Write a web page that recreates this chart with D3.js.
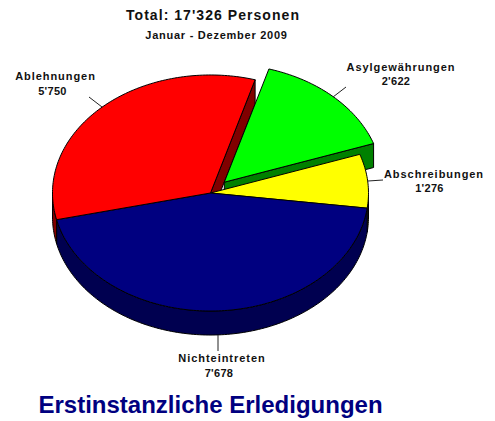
<!DOCTYPE html>
<html>
<head>
<meta charset="utf-8">
<script src="https://cdn.jsdelivr.net/npm/d3@7"></script>
<style>
  html, body { margin: 0; padding: 0; background: #fff; }
  text { font-family: "Liberation Sans", Arial, sans-serif; font-weight: bold; fill: #111; }
</style>
</head>
<body>
<svg id="chart" width="495" height="421"></svg>
<script>
const categories = ["Asylgewährungen", "Abschreibungen", "Nichteintreten", "Ablehnungen"];
const values = [2622, 1276, 7678, 5750];
const valueLabels = ["2'622", "1'276", "7'678", "5'750"];
const topColors = ["#00ff00", "#ffff00", "#000080", "#ff0000"];
const sideColors = ["#008000", "#808000", "#000050", "#800000"];
const exploded = [20, 0, 0, 0];

const cx = 210.5, cy = 193, rx = 158, tilt = 0.747, depth = 24;
const startDeg = 16.4;

const svg = d3.select("#chart");

const pie = d3.pie().sort(null)
    .startAngle(startDeg * Math.PI / 180)
    .endAngle((startDeg + 360) * Math.PI / 180);
const slices = pie(values).map((s, i) => {
    s.mid = (s.startAngle + s.endAngle) / 2;
    s.dx = exploded[i] * Math.sin(s.mid);
    s.dy = -exploded[i] * tilt * Math.cos(s.mid);
    return s;
});

// angle is clockwise from the top, r is in ground plane units
function project(s, angle, r, drop) {
    return [
        cx + s.dx + r * Math.sin(angle),
        cy + s.dy - r * tilt * Math.cos(angle) + drop
    ];
}

function arcAngles(a0, a1) {
    const n = Math.max(2, Math.ceil(Math.abs(a1 - a0) / 0.02));
    return d3.range(n + 1).map(k => a0 + (a1 - a0) * k / n);
}

const line = d3.line();

function drawPoly(points, fill) {
    svg.append("path")
        .attr("d", line(points) + "Z")
        .attr("fill", fill)
        .attr("stroke", "#000")
        .attr("stroke-width", 1)
        .attr("stroke-linejoin", "round");
}

// cut faces first, at the back
[3, 0].forEach(i => {
    const s = slices[i];
    drawPoly([
        project(s, s.endAngle, 0, 0),
        project(s, s.endAngle, rx, 0),
        project(s, s.endAngle, rx, depth),
        project(s, s.endAngle, 0, depth)
    ], sideColors[i]);
});

// outer walls, only where they face the viewer
slices.forEach((s, i) => {
    const half = Math.PI / 2, full = Math.PI * 1.5;
    const a0 = Math.max(s.startAngle, half), a1 = Math.min(s.endAngle, full);
    if (a1 <= a0) return;
    const angles = arcAngles(a0, a1);
    drawPoly(
        angles.map(a => project(s, a, rx, 0))
            .concat(angles.slice().reverse().map(a => project(s, a, rx, depth))),
        sideColors[i]
    );
});

// top faces
slices.forEach((s, i) => {
    const pts = [project(s, 0, 0, 0)]
        .concat(arcAngles(s.startAngle, s.endAngle).map(a => project(s, a, rx, 0)));
    drawPoly(pts, topColors[i]);
});

// leader lines, from the rim out to the label
const leaderEnds = [[346, 87], [383, 180], [218, 351], [89, 97]];
const leaderStarts = [[333, 97], [368, 181], [218, 335], [102, 107]];
leaderStarts.forEach((p, i) => {
    svg.append("line")
        .attr("x1", p[0]).attr("y1", p[1])
        .attr("x2", leaderEnds[i][0]).attr("y2", leaderEnds[i][1])
        .attr("stroke", "#222").attr("stroke-width", 1);
});

const labelAnchors = [[401, 71], [434, 178], [222, 362], [55.5, 80]];
const valueAnchors = [[396, 85], [429.5, 192], [219, 377], [52.5, 95]];
categories.forEach((c, i) => {
    svg.append("text").attr("x", labelAnchors[i][0]).attr("y", labelAnchors[i][1])
        .attr("text-anchor", "middle").attr("font-size", 11)
        .attr("letter-spacing", 0.95).text(c);
    svg.append("text").attr("x", valueAnchors[i][0]).attr("y", valueAnchors[i][1])
        .attr("text-anchor", "middle").attr("font-size", 11)
        .attr("letter-spacing", 0.3).text(valueLabels[i]);
});

svg.append("text").attr("x", 213).attr("y", 20)
    .attr("text-anchor", "middle").attr("font-size", 14)
    .attr("letter-spacing", 1.05).text("Total: 17'326 Personen");
svg.append("text").attr("x", 216.5).attr("y", 39)
    .attr("text-anchor", "middle").attr("font-size", 11)
    .attr("letter-spacing", 0.75).text("Januar - Dezember 2009");
svg.append("text").attr("x", 38.5).attr("y", 413)
    .attr("font-size", 24).style("fill", "#000080")
    .text("Erstinstanzliche Erledigungen");
</script>
</body>
</html>
